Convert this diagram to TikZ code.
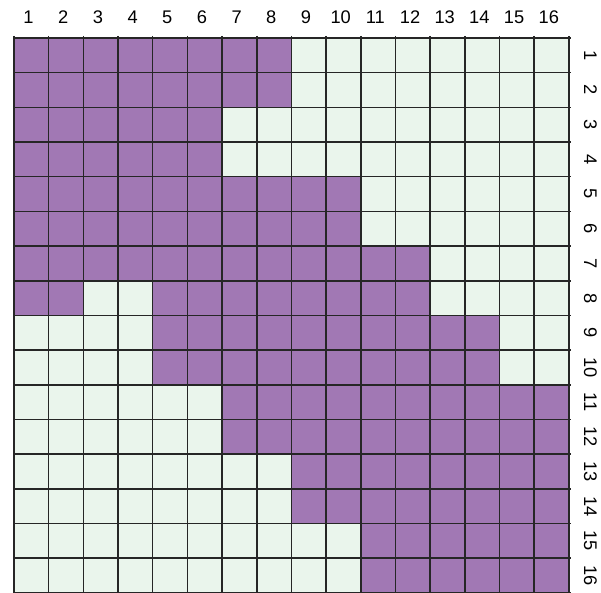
\documentclass[tikz,border=0pt]{standalone}
\usepackage{fontspec}
\setmainfont{Liberation Sans}
\definecolor{cellpurple}{RGB}{161,120,180}
\definecolor{cellgreen}{RGB}{234,245,236}
\tikzset{
  numlabel/.style={font=\fontsize{13}{15}\selectfont, inner sep=0pt},
  gridline/.style={line width=1.1pt, black!85}
}
\begin{document}
\begin{tikzpicture}[x=0.867cm, y=-0.867cm]
    \useasboundingbox (-0.35cm,0.95cm) rectangle (14.675cm,-13.875cm);

    % Background of the 16x16 board
    \fill[cellgreen] (0,0) rectangle (16,16);

    % Purple runs: row / first column / last column
    \foreach \r/\a/\b in {1/1/8, 2/1/8, 3/1/6, 4/1/6, 5/1/10, 6/1/10, 7/1/12,
                          8/1/2, 8/5/12, 9/5/14, 10/5/14, 11/7/16, 12/7/16,
                          13/9/16, 14/9/16, 15/11/16, 16/11/16}
        \fill[cellpurple] (\a-1,\r-1) rectangle (\b,\r);

    % Grid lines
    \foreach \i in {0,...,16} {
        \draw[gridline] (\i,-0.06) -- (\i,16);
        \draw[gridline] (0,\i) -- (16.06,\i);
    }

    % Column numbers (top)
    \foreach \c in {1,...,16}
        \node[numlabel] (c\c) at (\c-0.58,-0.6) {\c};

    % Row numbers (right, turned)
    \foreach \r in {1,...,16}
        \node[numlabel, rotate=-90] (r\r) at (16.62,\r-0.5) {\r};
\end{tikzpicture}
\end{document}
